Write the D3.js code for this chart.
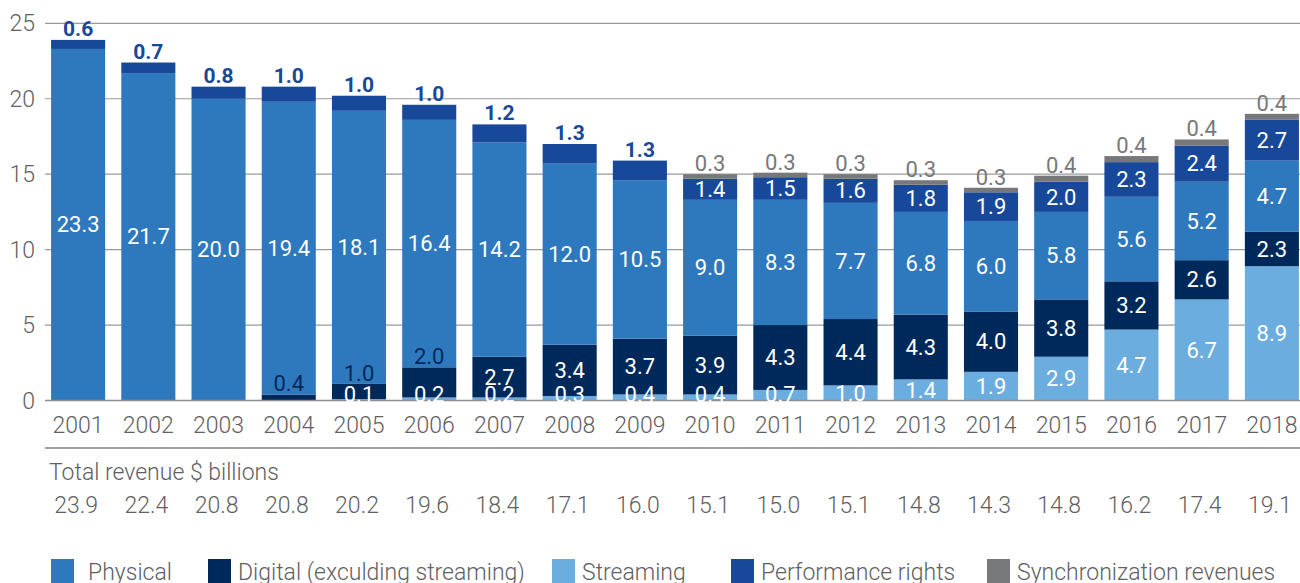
<!DOCTYPE html>
<html>
<head>
<meta charset="utf-8">
<script src="https://cdn.jsdelivr.net/npm/d3@7"></script>
<style>
  body { margin: 0; background: #fff; }
  text { font-family: "Roboto", "Liberation Sans", sans-serif; }
</style>
</head>
<body>
<div id="chart"></div>
<script>
// Data ($ billions)
const years = ["2001", "2002", "2003", "2004", "2005", "2006", "2007", "2008", "2009",
               "2010", "2011", "2012", "2013", "2014", "2015", "2016", "2017", "2018"];
const physical    = [23.3, 21.7, 20.0, 19.4, 18.1, 16.4, 14.2, 12.0, 10.5, 9.0, 8.3, 7.7, 6.8, 6.0, 5.8, 5.6, 5.2, 4.7];
const digital     = [0, 0, 0, 0.4, 1.0, 2.0, 2.7, 3.4, 3.7, 3.9, 4.3, 4.4, 4.3, 4.0, 3.8, 3.2, 2.6, 2.3];
const streaming   = [0, 0, 0, 0, 0.1, 0.2, 0.2, 0.3, 0.4, 0.4, 0.7, 1.0, 1.4, 1.9, 2.9, 4.7, 6.7, 8.9];
const performance = [0.6, 0.7, 0.8, 1.0, 1.0, 1.0, 1.2, 1.3, 1.3, 1.4, 1.5, 1.6, 1.8, 1.9, 2.0, 2.3, 2.4, 2.7];
const sync        = [0, 0, 0, 0, 0, 0, 0, 0, 0, 0.3, 0.3, 0.3, 0.3, 0.3, 0.4, 0.4, 0.4, 0.4];
const totals = ["23.9", "22.4", "20.8", "20.8", "20.2", "19.6", "18.4", "17.1", "16.0",
                "15.1", "15.0", "15.1", "14.8", "14.3", "14.8", "16.2", "17.4", "19.1"];
const yTicks = [0, 5, 10, 15, 20, 25];

const seriesKeys = ["streaming", "digital", "physical", "performance", "sync"];
const legendKeys = ["physical", "digital", "streaming", "performance", "sync"];
const seriesNames = {
  physical: "Physical",
  digital: "Digital (exculding streaming)",
  streaming: "Streaming",
  performance: "Performance rights",
  sync: "Synchronization revenues"
};
const colors = {
  physical: "#2e78bd",
  digital: "#00295b",
  streaming: "#6cade0",
  performance: "#17489a",
  sync: "#77787b"
};
const textGray = "#5f6062";

/*******************************/
/*    Declare the constants    */
/*******************************/
const width = 1300;
const height = 583;
const labelSize = 22;   // values inside / above the bars
const axisSize = 23;    // gray axis, totals and legend text

const rows = years.map((year, i) => ({
  year,
  physical: physical[i],
  digital: digital[i],
  streaming: streaming[i],
  performance: performance[i],
  sync: sync[i],
  total: totals[i]
}));

const svg = d3.select("#chart")
  .append("svg")
    .attr("width", width)
    .attr("height", height)
    .attr("viewBox", `0, 0, ${width}, ${height}`);

/****************************/
/*    Declare the scales    */
/****************************/
const xScale = d3.scaleBand()
  .domain(years)
  .range([43, 1307])
  .paddingInner(0.23)
  .paddingOuter(0.115);

const yScale = d3.scaleLinear()
  .domain([0, 25])
  .range([400.5, 23.3]);

/**************************/
/*      Add the grid      */
/**************************/
const grid = svg.append("g");
grid.selectAll("line")
  .data(yTicks)
  .join("line")
    .attr("x1", 45)
    .attr("x2", width)
    .attr("y1", d => yScale(d))
    .attr("y2", d => yScale(d))
    .attr("stroke", "#9a9a9a")
    .attr("stroke-width", 1.2);

grid.selectAll("text")
  .data(yTicks)
  .join("text")
    .attr("x", 35)
    .attr("y", d => yScale(d))
    .attr("dy", "0.35em")
    .attr("text-anchor", "end")
    .attr("fill", textGray)
    .attr("font-size", axisSize)
    .attr("font-weight", 300)
    .text(d => d);

/******************************/
/*      Add the stacks        */
/******************************/
const stack = d3.stack().keys(seriesKeys);
const stacked = stack(rows);

const barsG = svg.append("g");
stacked.forEach(layer => {
  barsG.append("g")
      .attr("fill", colors[layer.key])
    .selectAll("rect")
    .data(layer)
    .join("rect")
      .attr("x", d => xScale(d.data.year))
      .attr("width", xScale.bandwidth())
      .attr("y", d => yScale(d[1]))
      .attr("height", d => yScale(d[0]) - yScale(d[1]));
});

// Baseline drawn on top of the bars
svg.append("line")
    .attr("x1", 45)
    .attr("x2", width)
    .attr("y1", yScale(0))
    .attr("y2", yScale(0))
    .attr("stroke", "#8e8e8e")
    .attr("stroke-width", 1.5);

/******************************/
/*      Add the labels        */
/******************************/
const labelsG = svg.append("g")
  .attr("text-anchor", "middle")
  .attr("font-size", labelSize);

const cx = d => xScale(d.data.year) + xScale.bandwidth() / 2;
const mid = d => (yScale(d[0]) + yScale(d[1])) / 2;

stacked.forEach(layer => {
  const key = layer.key;
  layer.forEach(d => {
    const v = d.data[key];
    if (!v) return;
    const label = labelsG.append("text")
      .attr("x", cx(d))
      .text(v.toFixed(1));

    if (key === "physical") {
      label.attr("y", mid(d)).attr("dy", "0.35em").attr("fill", "#fff");
    } else if (key === "digital") {
      // small digital slices get their label just above, in navy
      if (v < 2.2) {
        label.attr("y", yScale(d[1]) - 3).attr("fill", colors.digital);
      } else {
        label.attr("y", mid(d)).attr("dy", "0.35em").attr("fill", "#fff");
      }
    } else if (key === "streaming") {
      label.attr("y", Math.min(mid(d), yScale(0) - 6)).attr("dy", "0.35em").attr("fill", "#fff");
    } else if (key === "performance") {
      if (!d.data.sync) {
        label.attr("y", yScale(d[1]) - 4)
          .attr("font-size", 21)
          .attr("fill", colors.performance)
          .attr("font-weight", 700);
      } else {
        label.attr("y", mid(d)).attr("dy", "0.35em").attr("fill", "#fff");
      }
    } else if (key === "sync") {
      label.attr("y", yScale(d[1]) - 3).attr("fill", colors.sync);
    }
  });
});

/******************************/
/*   Year axis and totals     */
/******************************/
const bottomG = svg.append("g")
  .attr("fill", textGray)
  .attr("font-size", axisSize)
  .attr("font-weight", 300);

bottomG.selectAll(".year")
  .data(rows)
  .join("text")
    .attr("class", "year")
    .attr("x", d => xScale(d.year) + xScale.bandwidth() / 2)
    .attr("y", 433)
    .attr("text-anchor", "middle")
    .text(d => d.year);

svg.append("line")
    .attr("x1", 45)
    .attr("x2", width)
    .attr("y1", 448)
    .attr("y2", 448)
    .attr("stroke", "#a0a0a0")
    .attr("stroke-width", 2);

bottomG.append("text")
    .attr("x", 49)
    .attr("y", 480)
    .text("Total revenue $ billions");

bottomG.selectAll(".total")
  .data(rows)
  .join("text")
    .attr("class", "total")
    .attr("x", d => xScale(d.year) + xScale.bandwidth() / 2 - 2)
    .attr("y", 513)
    .attr("text-anchor", "middle")
    .text(d => d.total);

/**************************/
/*      Add the legend    */
/**************************/
const legendX = [51, 208, 552, 731, 987];
const legend = svg.append("g");
legendKeys.forEach((key, i) => {
  const item = legend.append("g")
    .attr("transform", `translate(${legendX[i]}, 559)`);
  item.append("rect")
    .attr("width", 23)
    .attr("height", 24)
    .attr("fill", colors[key]);
  item.append("text")
    .attr("x", key === "physical" ? 37 : 30)
    .attr("y", 21)
    .attr("fill", textGray)
    .attr("font-size", axisSize)
    .attr("font-weight", 300)
    .text(seriesNames[key]);
});
</script>
</body>
</html>
